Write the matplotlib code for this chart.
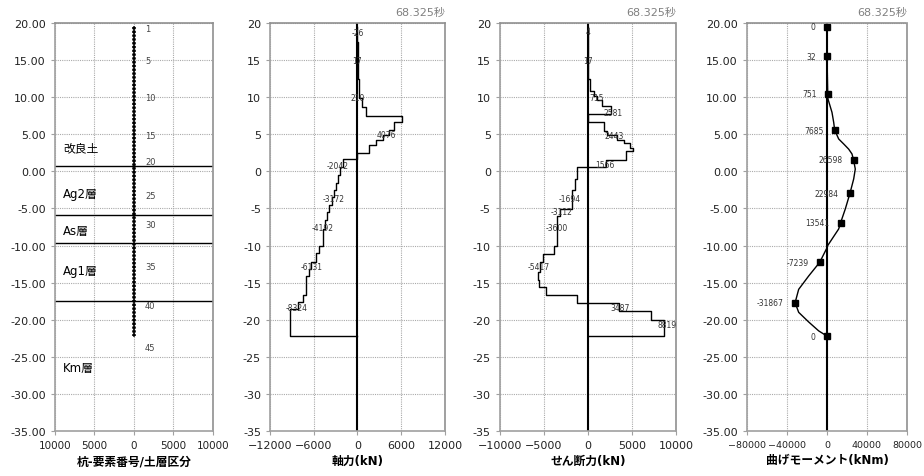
import numpy as np
import matplotlib
matplotlib.use("Agg")
import matplotlib.pyplot as plt
from matplotlib.ticker import FuncFormatter, MultipleLocator

plt.rcParams['font.family'] = ['DejaVu Sans', 'Noto Sans CJK JP']

time_label = "68.325秒"

# panel 1: pile elements / soil layers
pile_top, pile_bot = 19.5, -22.2
elem_no = ["1", "5", "10", "15", "20", "25", "30", "35", "40", "45"]
elem_y = [19.2, 14.9, 9.9, 4.8, 1.3, -3.3, -7.1, -12.8, -18.1, -23.8]
layer_bounds = [0.7, -5.9, -9.7, -17.5]
layer_names = ["改良土", "Ag2層", "As層", "Ag1層", "Km層"]
layer_name_y = [3.2, -3.0, -8.0, -13.4, -26.5]

# panel 2: axial force (step per element)
ax_bounds = [19.5, 17.5, 12.5, 9.85, 8.64, 7.5, 6.6, 5.58, 4.9, 4.23, 3.56, 2.44,
             1.67, 0.65, -0.5, -1.5, -2.5, -3.5, -4.5, -5.5, -6.5, -7.8, -10.0,
             -11.0, -12.2, -13.2, -14.1, -16.6, -17.6, -18.6, -22.2]
ax_vals = [-26, 17, 210, 630, 1140, 6130, 5030, 4340, 3520, 2600, 1600, -30,
           -2042, -2400, -2650, -2900, -3172, -3500, -3850, -4200, -4500, -4720,
           -5260, -5720, -6310, -6680, -7090, -7460, -8150, -9290]
ax_lbl = ["-26", "17", "210", "4076", "-2042", "-3172", "-4192", "-6131", "-8324"]
ax_lbl_x = [0, 0, 0, 3980, -2660, -3250, -4800, -6300, -8370]
ax_lbl_y = [18.7, 14.9, 9.9, 4.95, 0.77, -3.6, -7.5, -12.8, -18.3]

# panel 3: shear force (step per element)
sh_bounds = [19.5, 17.5, 12.5, 10.9, 10.2, 9.65, 8.75, 7.75, 6.7, 5.4, 4.95, 4.3,
             3.8, 3.2, 2.7, 1.6, 0.55, -1.0, -2.5, -4.2, -5.07, -5.97, -10.0,
             -11.1, -12.2, -13.5, -14.6, -15.6, -16.6, -17.8, -18.8, -20.0, -22.2]
sh_vals = [4, 17, 260, 640, 1020, 1630, 2610, 0, 1780, 2160, 3300, 4050, 4730,
           5070, 4320, 2080, -1250, -1440, -1780, -1820, -3150, -3520, -3900,
           -5110, -5420, -5730, -5570, -4740, -1250, 3480, 7160, 8670]
sh_lbl = ["4", "17", "715", "2581", "2443", "1566", "-1694", "-3112", "-3600",
          "-5417", "3487", "8819"]
sh_lbl_x = [0, 0, 1020, 2900, 2990, 1970, -2120, -2960, -3520, -5640, 3600, 8980]
sh_lbl_y = [18.9, 14.9, 10.0, 7.9, 4.9, 0.9, -3.6, -5.4, -7.5, -12.8, -18.4, -20.6]

# panel 4: bending moment
m_y = [19.5, 15.5, 10.5, 9.76, 7.96, 6.62, 5.58, 4.37, 3.7, 3.0, 2.35, 1.54, 0.32,
       -1.02, -2.95, -5.07, -6.95, -7.76, -10.0, -10.3, -12.25, -14.1, -15.9,
       -17.7, -19.0, -20.3, -21.5, -22.2]
m_x = [0, 32, 751, 1000, 5000, 6700, 7685, 11700, 16700, 21700, 25000, 26598,
       28300, 26700, 22984, 18300, 13541, 11700, 700, 0, -7239, -18300, -28300,
       -31867, -28300, -18300, -8300, 0]
mk_y = [19.5, 15.5, 10.5, 5.58, 1.54, -2.95, -6.95, -12.25, -17.7, -22.2]
mk_x = [0, 32, 751, 7685, 26598, 22984, 13541, -7239, -31867, 0]
mk_lbl = ["0", "32", "751", "7685", "26598", "22984", "13541", "-7239", "-31867", "0"]

xlabels = ["杭-要素番号/土層区分", "軸力(kN)", "せん断力(kN)", "曲げモーメント(kNm)"]

grid_c = "#aaaaaa"


def step_xy(bounds, vals):
    b = np.asarray(bounds)
    x = np.concatenate([[0], np.repeat(vals, 2), [0]])
    y = np.concatenate([[b[0]], np.column_stack([b[:-1], b[1:]]).ravel(), [b[-1]]])
    return x, y


def style_axes(ax, xlim, xstep, yfmt):
    ax.set_xlim(xlim)
    ax.set_ylim(-35, 20)
    ax.xaxis.set_major_locator(MultipleLocator(xstep))
    ax.yaxis.set_major_locator(MultipleLocator(5))
    ax.yaxis.set_major_formatter(FuncFormatter(yfmt))
    ax.grid(True, color=grid_c, linestyle=(0, (1, 1)), linewidth=0.8)
    ax.set_axisbelow(True)
    for s in ("left", "bottom"):
        ax.spines[s].set_color("#a0a0a0")
        ax.spines[s].set_linewidth(1.2)
    for s in ("top", "right"):
        ax.spines[s].set_color("#909090")
        ax.spines[s].set_linestyle((0, (1, 1)))
        ax.spines[s].set_linewidth(1.2)
    ax.tick_params(labelsize=8, length=3, colors="#a0a0a0", labelcolor="#222222")


fig = plt.figure(figsize=(9.24, 4.77), dpi=100)
bot, h = 0.0943, 0.8553
a1 = fig.add_axes([0.0595, bot, 0.171, h])
a2 = fig.add_axes([0.2922, bot, 0.1894, h])
a3 = fig.add_axes([0.5411, bot, 0.1905, h])
a4 = fig.add_axes([0.8084, bot, 0.1732, h])

fmt2 = lambda v, p: f"{v:.2f}"
fmt0 = lambda v, p: f"{v:.0f}"

# panel 1
style_axes(a1, (-10000, 10000), 5000, fmt2)
a1.xaxis.set_major_formatter(FuncFormatter(lambda v, p: f"{abs(v):.0f}"))
a1.tick_params(axis="x", labelsize=7.5)
a1.plot([0, 0], [pile_top, pile_bot], color="black", lw=1.2)
a1.plot([0, 0], [pile_top, pile_bot], color="black", lw=2.6,
        linestyle=(0, (0.6, 0.45)))
for yb in layer_bounds:
    a1.axhline(yb, color="black", lw=1.0)
for t, yy in zip(elem_no, elem_y):
    a1.text(1400, yy, t, fontsize=6, color="#444444", ha="left", va="center")
for t, yy in zip(layer_names, layer_name_y):
    a1.text(-9000, yy, t, fontsize=8.5, ha="left", va="center")

# panel 2
style_axes(a2, (-12000, 12000), 6000, fmt0)
a2.axvline(0, color="black", lw=1.5)
x, y = step_xy(ax_bounds, ax_vals)
a2.plot(x, y, color="black", lw=1.0)
for t, xx, yy in zip(ax_lbl, ax_lbl_x, ax_lbl_y):
    a2.text(xx, yy, t, fontsize=5.5, color="#333333", ha="center", va="center")

# panel 3
style_axes(a3, (-10000, 10000), 5000, fmt0)
a3.axvline(0, color="black", lw=1.5)
x, y = step_xy(sh_bounds, sh_vals)
a3.plot(x, y, color="black", lw=1.0)
for t, xx, yy in zip(sh_lbl, sh_lbl_x, sh_lbl_y):
    a3.text(xx, yy, t, fontsize=5.5, color="#333333", ha="center", va="center")

# panel 4
style_axes(a4, (-80000, 80000), 40000, fmt2)
a4.tick_params(axis="x", labelsize=6.8)
a4.axvline(0, color="black", lw=1.5)
a4.plot(m_x, m_y, color="black", lw=1.0)
a4.plot(mk_x, mk_y, "s", color="black", ms=4)
for t, xx, yy in zip(mk_lbl, mk_x, mk_y):
    a4.annotate(t, (xx, yy), xytext=(-8, 0), textcoords="offset points",
                fontsize=5.5, color="#333333", ha="right", va="center")

for ax in (a2, a3, a4):
    ax.text(1.0, 1.015, time_label, transform=ax.transAxes, ha="right",
            va="bottom", fontsize=8, color="#808080")

for ax, lab in zip((a1, a2, a3, a4), xlabels):
    ax.set_xlabel(lab, fontsize=8.5, fontweight="bold", labelpad=3)

fig.savefig("out.png", dpi=100)
